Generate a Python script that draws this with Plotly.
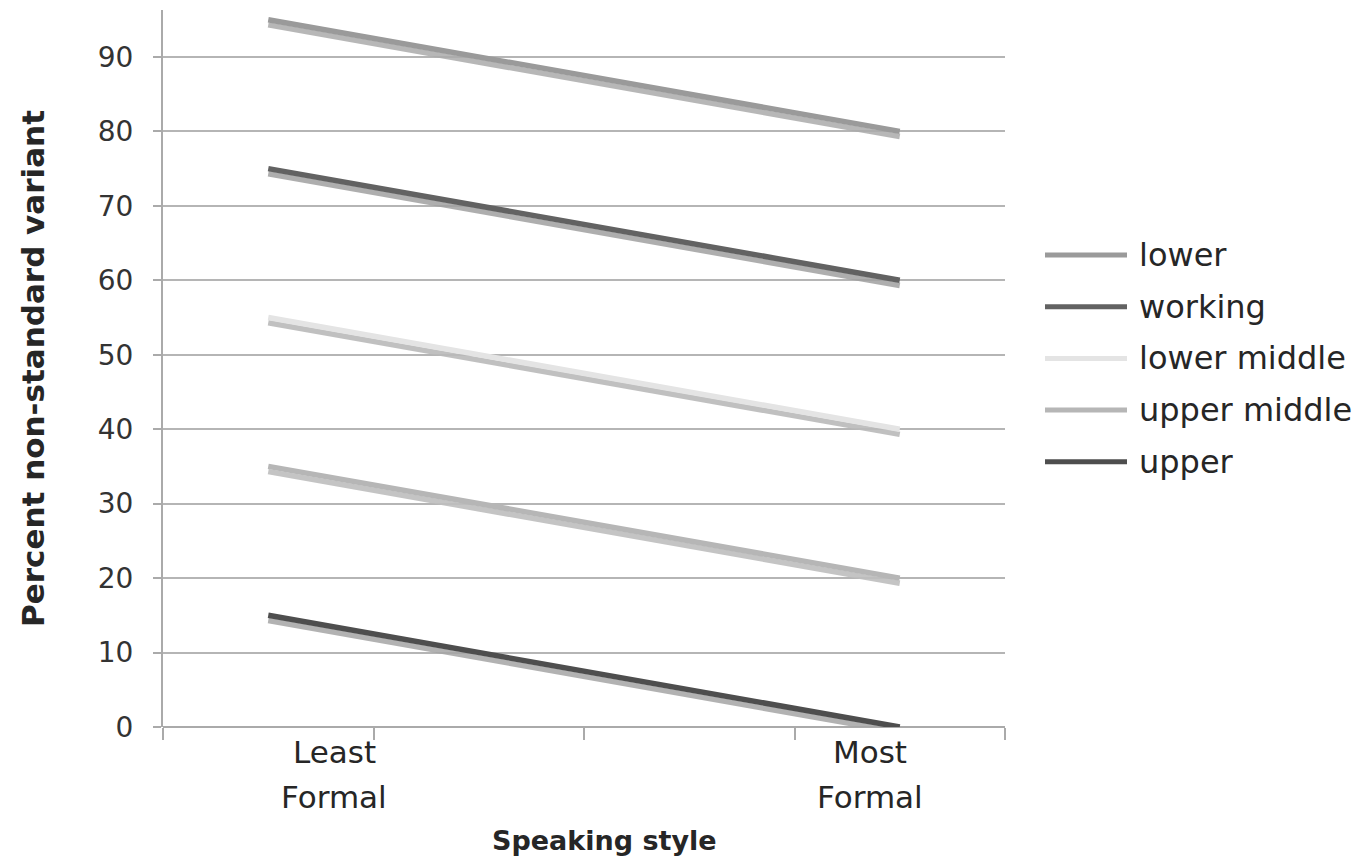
import plotly.graph_objects as go

# ---- data ----
styles = ["Least Formal", "Most Formal"]
slots = ["Least Formal", " ", "  ", "Most Formal"]  # four category slots on the x axis
series_names = ["lower", "working", "lower middle", "upper middle", "upper"]
lower = [95, 80]
working = [75, 60]
lower_middle = [55, 40]
upper_middle = [35, 20]
upper = [15, 0]
series_values = [lower, working, lower_middle, upper_middle, upper]
y_ticks = [0, 10, 20, 30, 40, 50, 60, 70, 80, 90]
x_label_lines = [["Least", "Formal"], ["Most", "Formal"]]

# ---- style ----
colors = ["#9a9a9a", "#626262", "#e4e4e4", "#b6b6b6", "#4e4e4e"]
shadow_colors = ["rgba(170,170,170,0.85)", "rgba(160,160,160,0.85)", "rgba(185,185,185,0.9)",
                 "rgba(190,190,190,0.9)", "rgba(165,165,165,0.85)"]
SHADOW = 0.7
FONT = "DejaVu Sans"
TXT = "#262626"

# page body has an 8px margin, so the figure is 8px smaller than the window
W, H = 1360, 855
ML, MT = 155, 2
PW, PH = 842, 717
MR, MB = W - ML - PW, H - MT - PH

fig = go.Figure()
for name, vals, c, sc in zip(series_names, series_values, colors, shadow_colors):
    fig.add_trace(go.Scatter(x=styles, y=[v - SHADOW for v in vals], mode="lines",
                             line=dict(color=sc, width=5.5), showlegend=False, hoverinfo="skip"))
    fig.add_trace(go.Scatter(x=styles, y=vals, mode="lines", name=name,
                             line=dict(color=c, width=5.5), showlegend=False))

# x tick labels (offset like the reference)
for lab, lines, dx in zip(styles, x_label_lines, [66, -30]):
    for j, word in enumerate(lines):
        fig.add_annotation(x=lab, y=0, xref="x", yref="y", text=word, showarrow=False,
                           xshift=dx, yanchor="middle", yshift=-25 - 45 * j,
                           font=dict(family=FONT, size=31, color=TXT), align="center")

def py2paper(py):  # reference-window pixel -> paper
    return (MT + PH - (py - 8)) / PH

def px2paper(px):
    return (px - 8 - ML) / PW

# x axis title
fig.add_annotation(xref="paper", yref="paper", x=px2paper(604), y=py2paper(840),
                   text="<b>Speaking style</b>", showarrow=False,
                   xanchor="center", yanchor="middle",
                   font=dict(family=FONT, size=27, color=TXT))

# manual legend
for i, (name, c) in enumerate(zip(series_names, colors)):
    yc = py2paper(255 + 51.7 * i)
    fig.add_shape(type="line", xref="paper", yref="paper",
                  x0=px2paper(1045), x1=px2paper(1127), y0=yc, y1=yc,
                  line=dict(color=c, width=5))
    fig.add_annotation(xref="paper", yref="paper", x=px2paper(1137), y=yc,
                       text=name, showarrow=False, xanchor="left", yanchor="middle",
                       font=dict(family=FONT, size=32, color=TXT))

fig.update_layout(
    width=W, height=H,
    margin=dict(l=ML, r=MR, t=MT, b=MB),
    plot_bgcolor="white", paper_bgcolor="white",
    font=dict(family=FONT, color=TXT),
    xaxis=dict(type="category", categoryorder="array", categoryarray=slots,
               range=[-0.5, 3.5], tickson="boundaries", showticklabels=False,
               ticks="outside", ticklen=12, tickwidth=2, tickcolor="#aaaaaa",
               showgrid=False, showline=False, zeroline=False),
    yaxis=dict(range=[0, 96.3], tickvals=y_ticks, ticks="outside", ticklen=8,
               tickwidth=2, tickcolor="#aaaaaa", showline=True, linecolor="#aaaaaa",
               linewidth=2, showgrid=True, gridcolor="#b5b5b5", gridwidth=2,
               zeroline=True, zerolinecolor="#aaaaaa", zerolinewidth=2,
               ticklabelstandoff=14,
               tickfont=dict(family=FONT, size=28, color="#333333"),
               title=dict(text="<b>Percent non-standard variant</b>", standoff=44,
                          font=dict(family=FONT, size=31, color=TXT))),
)

fig.write_html("out.html")
